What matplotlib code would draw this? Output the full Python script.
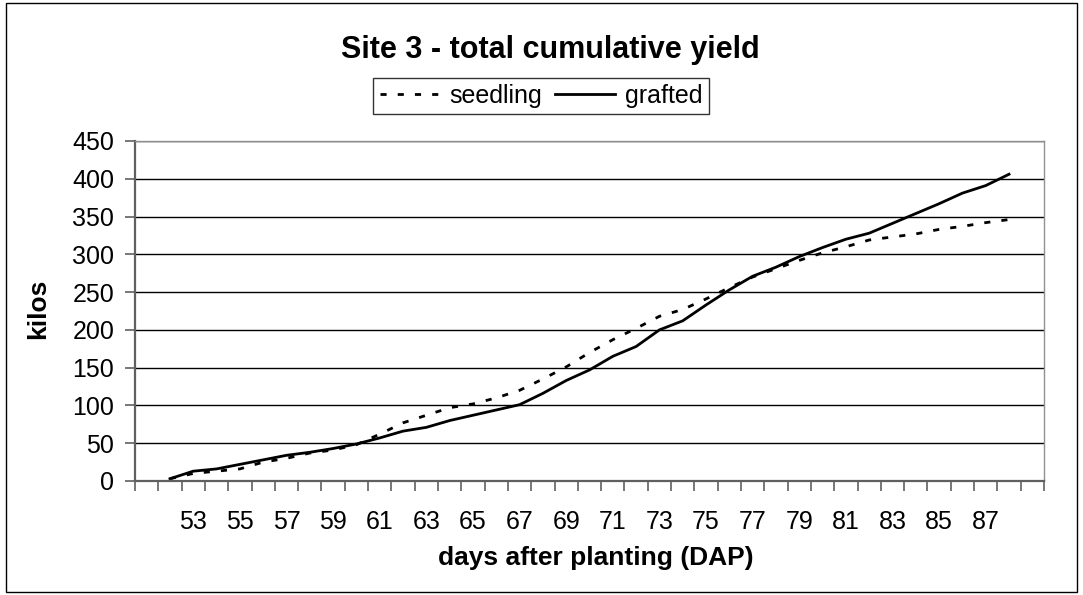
import numpy as np
import matplotlib
matplotlib.use("Agg")
from matplotlib import pyplot as plt
from matplotlib.patches import Rectangle

plt.rcParams['font.family'] = ['Liberation Sans', 'DejaVu Sans']

# category axis: days after planting (first and last category are empty)
days = list(range(51, 90))

seedling = [np.nan,
            3, 10, 13, 16, 25, 30, 37, 41, 48, 62,
            77, 87, 97, 102, 110, 120, 135, 151, 170, 187,
            202, 218, 227, 241, 256, 270, 281, 292, 302, 310,
            319, 323, 327, 333, 337, 342, 346,
            np.nan]

grafted = [np.nan,
           3, 13, 16, 22, 28, 34, 38, 43, 49, 57,
           66, 71, 80, 87, 94, 101, 116, 133, 147, 165,
           178, 200, 212, 233, 253, 271, 283, 297, 309, 320,
           328, 341, 354, 367, 381, 391, 406,
           np.nan]

shown_labels = [d for d in days if d % 2 == 1 and 53 <= d <= 87]

fig = plt.figure(figsize=(10.83, 5.95), dpi=100)
ax = fig.add_axes([135/1083, 1 - 481/595, (1044 - 135)/1083, (481 - 141)/595])

x = np.arange(len(days))
l1, = ax.plot(x, seedling, color='black', lw=2.0, dashes=(2.2, 4.0), label='seedling')
l2, = ax.plot(x, grafted, color='black', lw=2.0, label='grafted')

ax.set_xlim(-0.5, len(days) - 0.5)
ax.set_ylim(0, 450)
ax.set_yticks(np.arange(0, 451, 50))
ax.yaxis.grid(True, color='black', lw=1)
ax.set_axisbelow(True)

# ticks between categories, labels at category centres
ax.set_xticks(np.arange(-0.5, len(days), 1))
ax.set_xticklabels([])
ax.set_xticks([days.index(d) for d in shown_labels], minor=True)
ax.set_xticklabels([str(d) for d in shown_labels], minor=True)
ax.tick_params(axis='x', which='minor', length=0, pad=21, labelsize=18)
ax.tick_params(axis='x', which='major', length=7, width=1.2, color='#606060', direction='out')
ax.tick_params(axis='y', length=7, width=1.2, color='#606060', labelsize=18, pad=8)

for s in ['top', 'right']:
    ax.spines[s].set_color('#909090')
    ax.spines[s].set_linewidth(1)
for s in ['left', 'bottom']:
    ax.spines[s].set_color('#606060')
    ax.spines[s].set_linewidth(1.6)

fig.text(550/1083, 1 - 50/595, 'Site 3 - total cumulative yield', fontsize=22,
         fontweight='bold', ha='center', va='center')
fig.text(38/1083, 1 - 309/595, 'kilos', fontsize=19, fontweight='bold',
         rotation=90, ha='center', va='center')
fig.text(596/1083, 1 - 558/595, 'days after planting (DAP)', fontsize=19,
         fontweight='bold', ha='center', va='center')

leg = fig.legend(handles=[l1, l2], loc='center', bbox_to_anchor=(541/1083, 1 - 96/595),
                 ncol=2, fontsize=18, frameon=True, fancybox=False, shadow=False,
                 handlelength=2.4, handletextpad=0.4, columnspacing=0.5,
                 borderpad=0.25, borderaxespad=0)
leg.get_frame().set_edgecolor('black')
leg.get_frame().set_linewidth(1)

# chart area border
fig.patches.append(Rectangle((6/1083, 3/595), 1071/1083, 589/595, transform=fig.transFigure,
                             fill=False, edgecolor='black', lw=1))

fig.savefig('out.png', dpi=100)
